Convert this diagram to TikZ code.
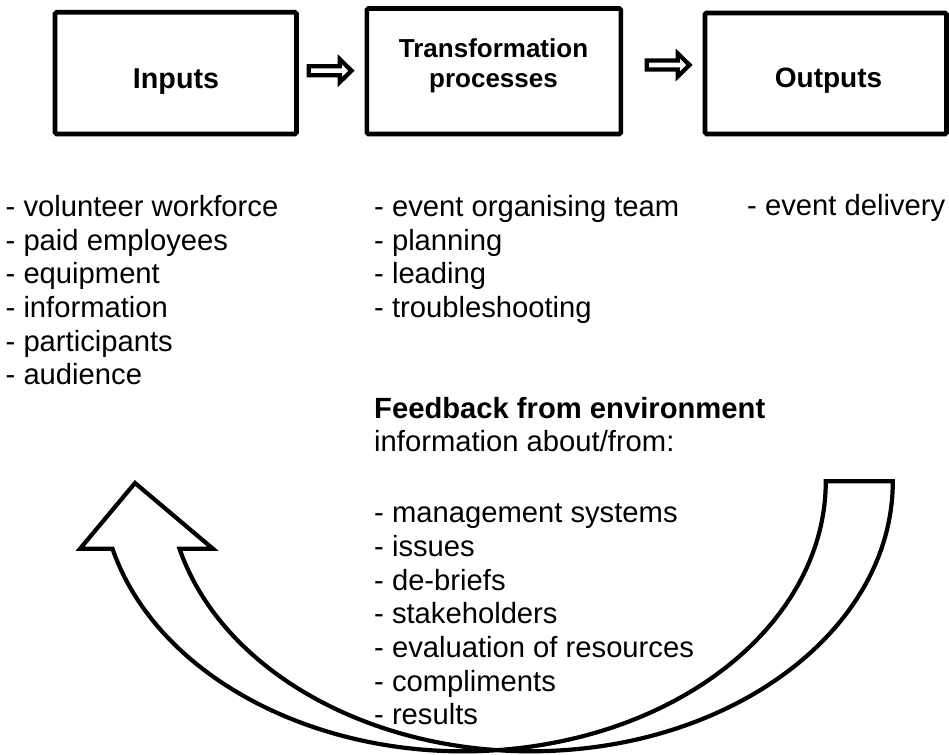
\documentclass[tikz,border=0pt]{standalone}
\usepackage{fontspec}
\setmainfont{Liberation Sans}
\begin{document}
\begin{tikzpicture}[x=1pt,y=1pt,
  stage/.style={draw, line width=4.6pt, rounded corners=1.5pt, inner sep=0pt, outer sep=0pt},
  boxlabel/.style={anchor=base, inner sep=0pt},
  % multi-line lists are anchored at the baseline of their last line
  listtext/.style={font=\fontsize{29.2}{33.7}\selectfont, align=left, anchor=base west, inner sep=0pt},
  loopband/.style={draw, line width=4.2pt, fill=white, line join=miter},
  blockarrow/.pic={
    \draw[line width=4.3pt, fill=white, line join=miter]
      (2,4.5) -- (33,4.5) -- (33,11.5) -- (44.8,0) -- (33,-11.5) -- (33,-4.5) -- (2,-4.5) -- cycle;
  }]
% canvas
\fill[white] (0,0) rectangle (949,754);
\useasboundingbox (0,0) rectangle (949,754);

% feedback loop: curved up arrow built from two offset elliptical arcs
\draw[loopband] (112.5,205.2)
  arc[start angle=194.48, end angle=360, x radius=362.4pt, y radius=270pt]
  -- (892.8,272.7)
  arc[start angle=0, end angle=-165.52, x radius=362.4pt, y radius=270pt]
  -- (213,205.2) -- (135,271) -- (80,205.2) -- cycle;

% the three stages
\node[stage, minimum width=241.5pt, minimum height=121.7pt] (inputs) at (175.75,680.85) {};
\node[stage, minimum width=254pt, minimum height=125.5pt] (transform) at (493.8,682.75) {};
\node[stage, minimum width=241.5pt, minimum height=121pt] (outputs) at (825.75,680.5) {};

\node[boxlabel, font=\bfseries\fontsize{28.7}{33}\selectfont] (inputs-label) at (176,665.7) {Inputs};
\node[boxlabel, font=\bfseries\fontsize{26}{30}\selectfont] (transform-l1) at (493.5,696) {Transformation};
\node[boxlabel, font=\bfseries\fontsize{26}{30}\selectfont] (transform-l2) at (493.5,666) {processes};
\node[boxlabel, font=\bfseries\fontsize{28}{32}\selectfont] (outputs-label) at (828.5,666) {Outputs};

% hollow block arrows between the stages
\coordinate (flowA) at (306.7,683.3);
\coordinate (flowB) at (644.7,689);
\pic at (flowA) {blockarrow};
\pic at (flowB) {blockarrow};

% item lists
\node[listtext] (inputs-list) at (5.5,369)
  {- volunteer workforce\\- paid employees\\- equipment\\- information\\- participants\\- audience};
\node[listtext] (transform-list) at (374,436.4)
  {- event organising team\\- planning\\- leading\\- troubleshooting};
\node[listtext] (outputs-list) at (747,538) {- event delivery};

\node[listtext] (feedback-head) at (374,302)
  {\textbf{Feedback from environment}\\information about/from:};
\node[listtext] (feedback-list) at (374,29.1)
  {- management systems\\- issues\\- de-briefs\\- stakeholders\\- evaluation of resources\\- compliments\\- results};
\end{tikzpicture}
\end{document}
